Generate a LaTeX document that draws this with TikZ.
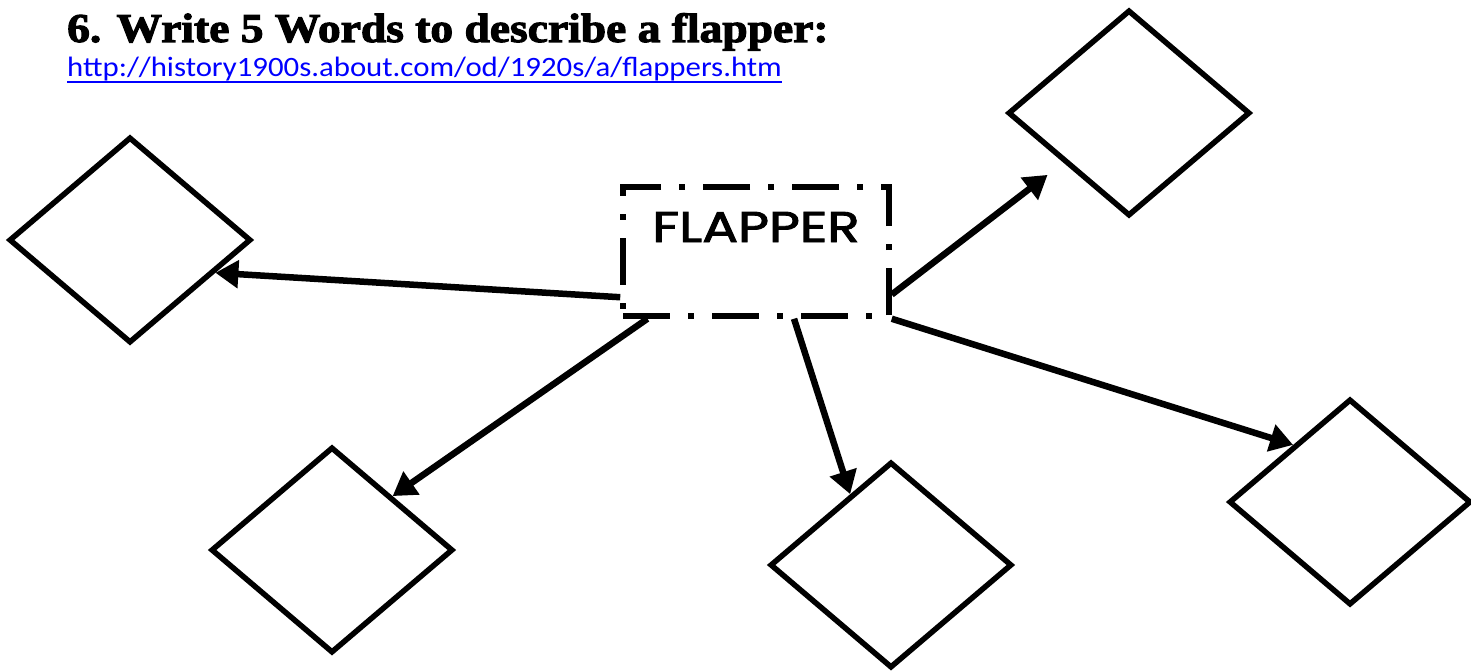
\documentclass[tikz,border=0pt]{standalone}
\usepackage{fontspec}
\setmainfont{Liberation Serif}
\newfontfamily\titlefont[FakeBold=2.5]{Liberation Serif}
\newfontfamily\linkfont{Carlito}
\newfontfamily\decofont[FakeBold=2]{Poppins}
\usepackage{tikz}
\usetikzlibrary{arrows.meta,shapes.geometric,calc}
\definecolor{linkblue}{HTML}{0000FF}

\begin{document}
\begin{tikzpicture}[
    x=1pt, y=-1pt,
    wordbox/.style={draw, diamond, line width=5.5pt, minimum width=242pt,
      minimum height=206pt, inner sep=0pt},
    centerbox/.style={draw, line width=5.5pt,
      dash pattern=on 47pt off 18pt on 6pt off 18pt, minimum width=266pt,
      inner sep=0pt, text height=55pt, text depth=74pt,
      font=\decofont\fontsize{43}{43}\selectfont},
    arrow/.style={-{Triangle[length=23pt, width=27pt]}, line width=6.5pt}
  ]
    \useasboundingbox (0,0) rectangle (1471,671);
    \node[anchor=base west, inner sep=0pt, font=\titlefont\bfseries\fontsize{41}{41}\selectfont]
      (title) at (67,42) {\scalebox{1.11}[1]{6. Write 5 Words to describe a flapper:}};
    \node[anchor=base west, inner sep=0pt, text=linkblue,
      font=\linkfont\fontsize{28}{28}\selectfont]
      (link) at (67,77) {\scalebox{1.1}[1]{http://history1900s.about.com/od/1920s/a/flappers.htm}};
    \draw[linkblue, line width=2.5pt] ([yshift=-5pt]link.base west) -- ([yshift=-5pt]link.base east);
    \node[centerbox] (flapper) at (756,251.5) {\scalebox{1.24}[1]{FLAPPER}};
    \node[wordbox] (wordleft) at (130,240) {};
    \node[wordbox] (wordlow) at (332,550) {};
    \node[wordbox] (wordmid) at (891,565) {};
    \node[wordbox] (wordtop) at (1129,113) {};
    \node[wordbox] (wordright) at (1350,502) {};
    \draw[arrow] ($(flapper.south west)!0.16!(flapper.north west)$) -- ($(wordleft.east)!0.31!(wordleft.south)$);
    \draw[arrow] ($(flapper.south west)!0.1!(flapper.south east)$) -- ($(wordlow.north)!0.49!(wordlow.east)$);
    \draw[arrow] ($(flapper.south west)!0.64!(flapper.south east)$) -- ($(wordmid.west)!0.67!(wordmid.north)$);
    \draw[arrow] (flapper.south east) -- ($(wordright.west)!0.54!(wordright.north)$);
    \draw[arrow, shorten >=20pt] ($(flapper.south east)!0.18!(flapper.north east)$) -- ($(wordtop.west)!0.47!(wordtop.south)$);
  \end{tikzpicture}
\end{document}
